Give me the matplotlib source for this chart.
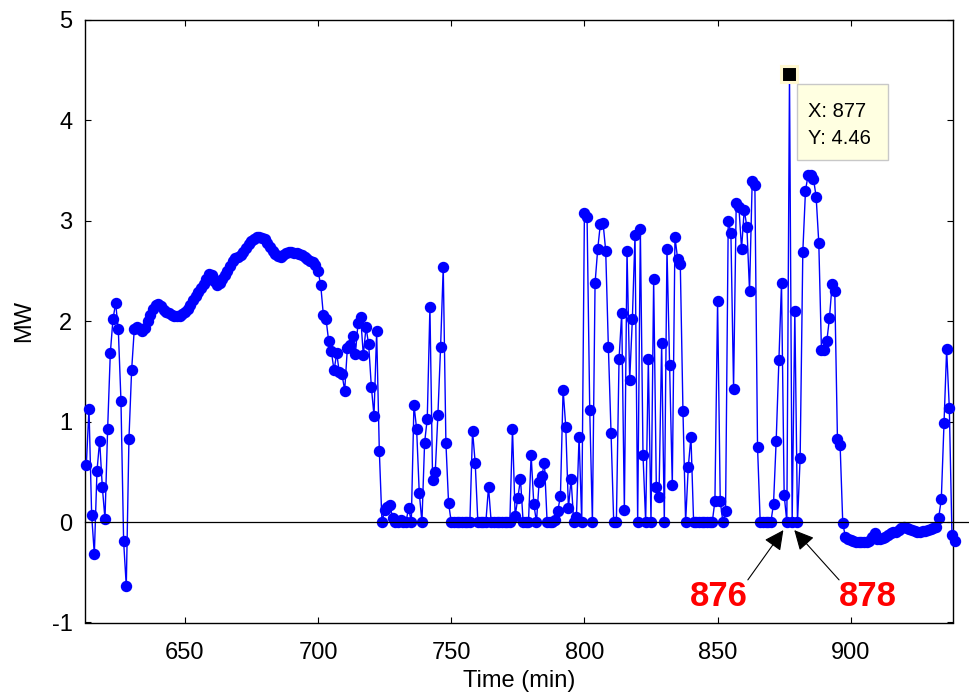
import matplotlib
matplotlib.use("Agg")
import matplotlib.pyplot as plt
from matplotlib.patches import Rectangle

plt.rcParams['font.family'] = ['Liberation Sans', 'DejaVu Sans']
plt.rcParams['axes.unicode_minus'] = False

time_min = list(range(613, 940))
power_mw = [
    0.57, 1.13, 0.07, -0.32, 0.51, 0.81, 0.35, 0.03, 0.93, 1.68,
    2.02, 2.18, 1.92, 1.21, -0.19, -0.64, 0.83, 1.51, 1.92, 1.94,
    1.92, 1.90, 1.93, 2.00, 2.06, 2.12, 2.16, 2.17, 2.15, 2.11,
    2.09, 2.08, 2.06, 2.05, 2.05, 2.05, 2.07, 2.09, 2.12, 2.16,
    2.21, 2.25, 2.29, 2.33, 2.37, 2.42, 2.47, 2.46, 2.40, 2.36,
    2.38, 2.42, 2.46, 2.50, 2.55, 2.60, 2.63, 2.64, 2.66, 2.69,
    2.73, 2.77, 2.80, 2.82, 2.84, 2.84, 2.83, 2.82, 2.78, 2.74,
    2.70, 2.67, 2.65, 2.64, 2.66, 2.68, 2.69, 2.69, 2.68, 2.68,
    2.67, 2.66, 2.64, 2.62, 2.60, 2.59, 2.56, 2.50, 2.36, 2.06,
    2.02, 1.80, 1.70, 1.51, 1.68, 1.49, 1.47, 1.31, 1.73, 1.76,
    1.85, 1.67, 1.98, 2.04, 1.66, 1.94, 1.77, 1.35, 1.06, 1.90,
    0.71, 0.00, 0.12, 0.15, 0.17, 0.04, 0.00, 0.00, 0.02, 0.00,
    0.00, 0.14, 0.00, 1.17, 0.93, 0.29, 0.00, 0.79, 1.03, 2.14,
    0.42, 0.50, 1.07, 1.74, 2.54, 0.79, 0.19, 0.00, 0.00, 0.00,
    0.00, 0.00, 0.00, 0.00, 0.00, 0.91, 0.59, 0.00, 0.00, 0.00,
    0.00, 0.35, 0.00, 0.00, 0.00, 0.00, 0.00, 0.00, 0.00, 0.00,
    0.93, 0.06, 0.24, 0.43, 0.00, 0.00, 0.00, 0.67, 0.18, 0.00,
    0.40, 0.46, 0.59, 0.00, 0.00, 0.00, 0.02, 0.11, 0.26, 1.32,
    0.95, 0.14, 0.43, 0.00, 0.05, 0.85, 0.00, 3.08, 3.04, 1.12,
    0.00, 2.38, 2.72, 2.97, 2.98, 2.70, 1.74, 0.89, 0.00, 0.00,
    1.62, 2.08, 0.12, 2.70, 1.41, 2.02, 2.86, 0.00, 2.92, 0.67,
    0.00, 1.62, 0.00, 2.42, 0.35, 0.25, 1.78, 0.00, 2.72, 1.56,
    0.37, 2.84, 2.62, 2.57, 1.11, 0.00, 0.55, 0.85, 0.00, 0.00,
    0.00, 0.00, 0.00, 0.00, 0.00, 0.00, 0.21, 2.20, 0.21, 0.00,
    0.11, 3.00, 2.88, 1.33, 3.18, 3.14, 2.72, 3.11, 2.94, 2.30,
    3.40, 3.36, 0.75, 0.00, 0.00, 0.00, 0.00, 0.00, 0.18, 0.81,
    1.61, 2.38, 0.27, 0.00, 4.46, 0.00, 2.10, 0.00, 0.64, 2.69,
    3.30, 3.46, 3.46, 3.42, 3.24, 2.78, 1.71, 1.71, 1.80, 2.03,
    2.37, 2.30, 0.83, 0.77, -0.01, -0.15, -0.17, -0.18, -0.19, -0.20,
    -0.20, -0.20, -0.20, -0.20, -0.19, -0.15, -0.11, -0.17, -0.17, -0.16,
    -0.15, -0.13, -0.11, -0.10, -0.10, -0.08, -0.06, -0.05, -0.06, -0.07,
    -0.08, -0.09, -0.10, -0.10, -0.09, -0.09, -0.08, -0.07, -0.06, -0.05,
    0.04, 0.23, 0.99, 1.72, 1.14, -0.13, -0.19,
]

x_ticks = [650, 700, 750, 800, 850, 900]
y_ticks = [-1, 0, 1, 2, 3, 4, 5]
x_limits = (612.5, 938.5)
y_limits = (-1, 5)
zero_line_x = [612.5, 944.8]
tip_x, tip_y = 877, 4.46
marked_points = [876, 878]

W, H = 970, 696
fig = plt.figure(figsize=(W / 100, H / 100), dpi=100)
ax = fig.add_axes([85 / W, 1 - 622.5 / H, (953.3 - 85) / W, (622.5 - 20) / H])

ax.plot(time_min, power_mw, color='#0000FF', lw=1.0, marker='o',
        markersize=7.2, markerfacecolor='#0000FF', markeredgecolor='#0000FF',
        clip_on=False, zorder=3)
ax.plot(zero_line_x, [0, 0], color='black', lw=0.9, clip_on=False, zorder=4)

ax.set_xlim(*x_limits)
ax.set_ylim(*y_limits)
ax.set_xticks(x_ticks)
ax.set_yticks(y_ticks)
ax.tick_params(direction='in', top=True, right=True, length=4, width=0.8,
               labelsize=17, colors='black')
ax.tick_params(axis='x', pad=14)
ax.tick_params(axis='y', pad=9)
for s in ax.spines.values():
    s.set_linewidth(1.0)
    s.set_color('black')
ax.set_xlabel('Time (min)', fontsize=17, labelpad=4)
ax.set_ylabel('MW', fontsize=17, labelpad=12)

# data tip
ax.plot([tip_x], [tip_y], marker='s', markersize=12, color='black',
        markeredgecolor='#FFF8D0', markeredgewidth=2.2, clip_on=False, zorder=6)
box = Rectangle((797 / W, 1 - 160 / H), (888 - 797) / W, (160 - 84) / H,
                transform=fig.transFigure, facecolor='#FFFFE1',
                edgecolor='#C8C8C8', lw=1.0, zorder=1)
fig.patches.append(box)
fig.text(808 / W, 1 - 117 / H, 'X: %d' % tip_x, fontsize=14.5, va='baseline',
         ha='left', zorder=2)
fig.text(808 / W, 1 - 144 / H, 'Y: %.2f' % tip_y, fontsize=14.5, va='baseline',
         ha='left', zorder=2)

# annotations
ax.annotate(str(marked_points[0]), xy=(874.7, -0.08), xytext=(850.5, -0.74),
            fontsize=25, fontweight='bold', color='#FF0000', ha='center', va='center',
            annotation_clip=False,
            arrowprops=dict(arrowstyle='-|>', color='black', lw=0.8,
                            mutation_scale=30, shrinkA=0, shrinkB=0,
                            patchA=None, relpos=(1.0, 1.0)))
ax.annotate(str(marked_points[1]), xy=(878.8, -0.08), xytext=(906.5, -0.74),
            fontsize=25, fontweight='bold', color='#FF0000', ha='center', va='center',
            annotation_clip=False,
            arrowprops=dict(arrowstyle='-|>', color='black', lw=0.8,
                            mutation_scale=30, shrinkA=0, shrinkB=0,
                            patchA=None, relpos=(0.0, 1.0)))

fig.savefig('out.png', dpi=100)
